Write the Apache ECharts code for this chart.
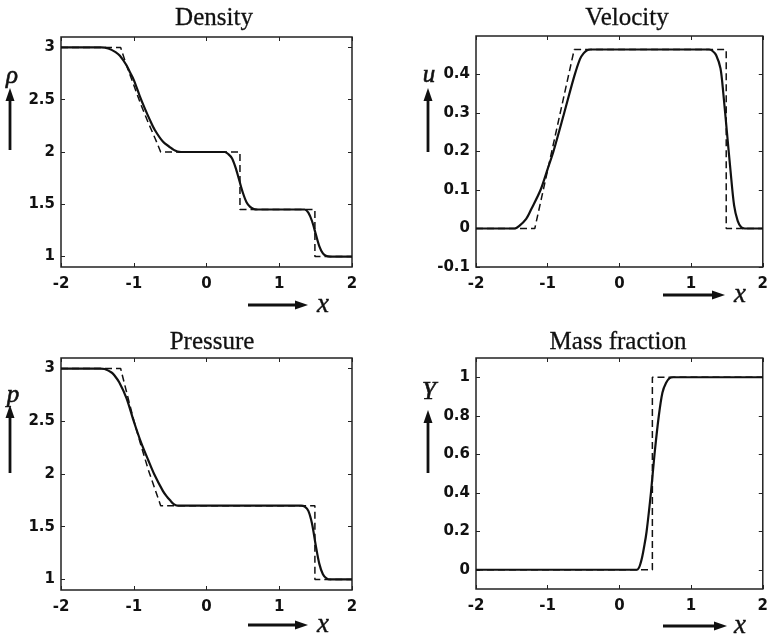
<!DOCTYPE html>
<html>
<head>
<meta charset="utf-8">
<script src="https://cdn.jsdelivr.net/npm/echarts@6/dist/echarts.min.js"></script>
<style>
html,body{margin:0;padding:0;background:#fff;}
#chart{width:771px;height:638px;}
</style>
</head>
<body>
<div id="chart"></div>
<script>
// ---------- data ----------
var panelTitles = ['Density', 'Velocity', 'Pressure', 'Mass fraction'];
var panelSymbols = ['\u03C1', 'u', 'p', 'Y'];

var xTicks = [-2, -1, 0, 1, 2];
var densityTicks = [1, 1.5, 2, 2.5, 3];
var velocityTicks = [-0.1, 0, 0.1, 0.2, 0.3, 0.4];
var pressureTicks = [1, 1.5, 2, 2.5, 3];
var massTicks = [0, 0.2, 0.4, 0.6, 0.8, 1];

// numerical (solid) solutions
var densityNumerical = [
  [-2, 3], [-1.45, 3], [-1.35, 2.99], [-1.25, 2.955], [-1.19, 2.92], [-1.1, 2.83],
  [-1.05, 2.76], [-1.0, 2.69], [-0.92, 2.54], [-0.85, 2.42], [-0.78, 2.31],
  [-0.71, 2.21], [-0.6, 2.1], [-0.5, 2.045], [-0.45, 2.02], [-0.4, 2.005], [-0.35, 2.0],
  [0.25, 2.0], [0.3, 1.98], [0.35, 1.94], [0.4, 1.85], [0.45, 1.73], [0.5, 1.61],
  [0.55, 1.52], [0.6, 1.475], [0.65, 1.455], [0.7, 1.45],
  [1.35, 1.45], [1.4, 1.42], [1.45, 1.34], [1.5, 1.22], [1.55, 1.1], [1.6, 1.03],
  [1.65, 1.005], [1.7, 1.0], [2, 1.0]
];
var velocityNumerical = [
  [-2, 0], [-1.46, 0], [-1.4, 0.006], [-1.3, 0.025], [-1.23, 0.05], [-1.1, 0.1],
  [-1.0, 0.155], [-0.92, 0.2], [-0.77, 0.3], [-0.63, 0.395], [-0.55, 0.44],
  [-0.5, 0.455], [-0.45, 0.463], [-0.4, 0.465],
  [1.25, 0.465], [1.3, 0.461], [1.35, 0.45], [1.41, 0.416], [1.45, 0.35], [1.5, 0.25],
  [1.55, 0.15], [1.6, 0.06], [1.65, 0.02], [1.7, 0.003], [1.75, 0], [2, 0]
];
var pressureNumerical = [
  [-2, 3], [-1.46, 3], [-1.4, 2.995], [-1.3, 2.96], [-1.26, 2.93], [-1.2, 2.87],
  [-1.1, 2.72], [-1.0, 2.5], [-0.9, 2.3], [-0.8, 2.13], [-0.72, 2.0], [-0.6, 1.84],
  [-0.55, 1.79], [-0.5, 1.75], [-0.45, 1.715], [-0.4, 1.7],
  [1.3, 1.7], [1.35, 1.69], [1.4, 1.65], [1.45, 1.53], [1.5, 1.33], [1.55, 1.15],
  [1.6, 1.05], [1.65, 1.01], [1.7, 1.0], [2, 1.0]
];
var massNumerical = [
  [-2, 0], [0.24, 0], [0.3, 0.04], [0.35, 0.13], [0.38, 0.2], [0.44, 0.4],
  [0.49, 0.6], [0.55, 0.8], [0.6, 0.92], [0.65, 0.97], [0.7, 0.995], [0.75, 1.0], [2, 1.0]
];

// exact (dashed) solutions
var densityExact = [
  [-2, 3], [-1.18, 3], [-1.1, 2.83], [-1.0, 2.64], [-0.9, 2.45], [-0.8, 2.28],
  [-0.7, 2.12], [-0.63, 2.0], [0.46, 2.0], [0.46, 1.45], [1.49, 1.45], [1.49, 1.0], [2, 1.0]
];
var velocityExact = [
  [-2, 0], [-1.18, 0], [-0.63, 0.465], [1.49, 0.465], [1.49, 0], [2, 0]
];
var pressureExact = [
  [-2, 3], [-1.18, 3], [-1.1, 2.78], [-1.0, 2.51], [-0.9, 2.27], [-0.8, 2.04],
  [-0.7, 1.84], [-0.63, 1.7], [1.49, 1.7], [1.49, 1.0], [2, 1.0]
];
var massExact = [
  [-2, 0], [0.46, 0], [0.46, 1], [2, 1]
];

// ---------- layout ----------
var grids = [
  {left: 61, top: 37, width: 291, height: 230},
  {left: 476, top: 36, width: 290, height: 231},
  {left: 61, top: 358, width: 291, height: 232},
  {left: 476, top: 358, width: 290, height: 231}
];
var yRanges = [[0.9, 3.1], [-0.1, 0.5], [0.9, 3.1], [-0.1, 1.1]];
var yTickSets = [densityTicks, velocityTicks, pressureTicks, massTicks];
var solids = [densityNumerical, velocityNumerical, pressureNumerical, massNumerical];
var dashes = [densityExact, velocityExact, pressureExact, massExact];

var titleCenters = [[214, 18], [627, 18], [212, 342], [618, 342]];
var yArrowPos = [[10, 150, 88, 12, 76], [428, 152, 88, 429, 75], [10, 473, 405, 13, 395], [428, 473, 410, 429, 392]];
var xArrowPos = [[248, 308, 305, 323], [663, 725, 295, 740], [248, 308, 625, 323], [663, 727, 626, 740]];

var ink = '#111';
var labelFont = {fontFamily: 'DejaVu Sans', fontWeight: 'bold', fontSize: 15, color: ink};
function fmt(v) { return String(Math.round(v * 100) / 100); }
var tickStyle = {color: '#222', width: 1};

var option = {
  backgroundColor: '#fff',
  animation: false,
  grid: grids.map(function (g) {
    return Object.assign({show: true, borderColor: '#222', borderWidth: 1.5, backgroundColor: 'transparent', containLabel: false}, g);
  }),
  xAxis: [],
  yAxis: [],
  series: [],
  graphic: []
};

for (var i = 0; i < 4; i++) {
  option.xAxis.push({
    type: 'value', gridIndex: i, min: -2, max: 2, interval: 1, position: 'bottom',
    axisLine: {show: false, onZero: false}, splitLine: {show: false},
    axisTick: {show: true, inside: true, length: 4, lineStyle: tickStyle, customValues: xTicks},
    axisLabel: Object.assign({margin: 10, formatter: fmt, customValues: xTicks}, labelFont)
  });
  option.xAxis.push({
    type: 'value', gridIndex: i, min: -2, max: 2, interval: 1, position: 'top',
    axisLine: {show: false, onZero: false}, splitLine: {show: false}, axisLabel: {show: false},
    axisTick: {show: true, inside: true, length: 4, lineStyle: tickStyle, customValues: xTicks}
  });
  option.yAxis.push({
    type: 'value', gridIndex: i, min: yRanges[i][0], max: yRanges[i][1], position: 'left',
    axisLine: {show: false, onZero: false}, splitLine: {show: false},
    axisTick: {show: true, inside: true, length: 4, lineStyle: tickStyle, customValues: yTickSets[i]},
    axisLabel: Object.assign({margin: 6, formatter: fmt, customValues: yTickSets[i]}, labelFont)
  });
  option.yAxis.push({
    type: 'value', gridIndex: i, min: yRanges[i][0], max: yRanges[i][1], position: 'right',
    axisLine: {show: false, onZero: false}, splitLine: {show: false}, axisLabel: {show: false},
    axisTick: {show: true, inside: true, length: 4, lineStyle: tickStyle, customValues: yTickSets[i]}
  });

  option.series.push({
    type: 'line', xAxisIndex: 2 * i, yAxisIndex: 2 * i, data: dashes[i],
    showSymbol: false, symbol: 'none', smooth: false, z: 2,
    lineStyle: {color: ink, width: 1.5, type: [7, 4]}
  });
  option.series.push({
    type: 'line', xAxisIndex: 2 * i, yAxisIndex: 2 * i, data: solids[i],
    showSymbol: false, symbol: 'none', smooth: 0.3, z: 3,
    lineStyle: {color: ink, width: 2.2}
  });

  option.graphic.push({
    type: 'text', x: titleCenters[i][0], y: titleCenters[i][1],
    style: {text: panelTitles[i], font: '25px "Liberation Serif"', fill: ink, stroke: ink, lineWidth: 0.3, align: 'center', verticalAlign: 'middle'}
  });
  var ya = yArrowPos[i];
  option.graphic.push({
    type: 'line', shape: {x1: ya[0], y1: ya[1], x2: ya[0], y2: ya[2] + 8},
    style: {stroke: ink, lineWidth: 2.8}
  });
  option.graphic.push({
    type: 'polygon', shape: {points: [[ya[0], ya[2]], [ya[0] - 4.5, ya[2] + 13], [ya[0] + 4.5, ya[2] + 13]]},
    style: {fill: ink}
  });
  option.graphic.push({
    type: 'text', x: ya[3], y: ya[4],
    style: {text: panelSymbols[i], font: 'italic 25px "Liberation Serif"', fill: ink, stroke: ink, lineWidth: 0.6, align: 'center', verticalAlign: 'middle'}
  });
  var xa = xArrowPos[i];
  option.graphic.push({
    type: 'line', shape: {x1: xa[0], y1: xa[2], x2: xa[1] - 8, y2: xa[2]},
    style: {stroke: ink, lineWidth: 2.8}
  });
  option.graphic.push({
    type: 'polygon', shape: {points: [[xa[1], xa[2]], [xa[1] - 13, xa[2] - 4.5], [xa[1] - 13, xa[2] + 4.5]]},
    style: {fill: ink}
  });
  option.graphic.push({
    type: 'text', x: xa[3], y: xa[2],
    style: {text: 'x', font: 'italic 27px "Liberation Serif"', fill: ink, stroke: ink, lineWidth: 0.4, align: 'center', verticalAlign: 'middle'}
  });
}

var chart = echarts.init(document.getElementById('chart'), null, {renderer: 'canvas'});
chart.setOption(option);
</script>
</body>
</html>
